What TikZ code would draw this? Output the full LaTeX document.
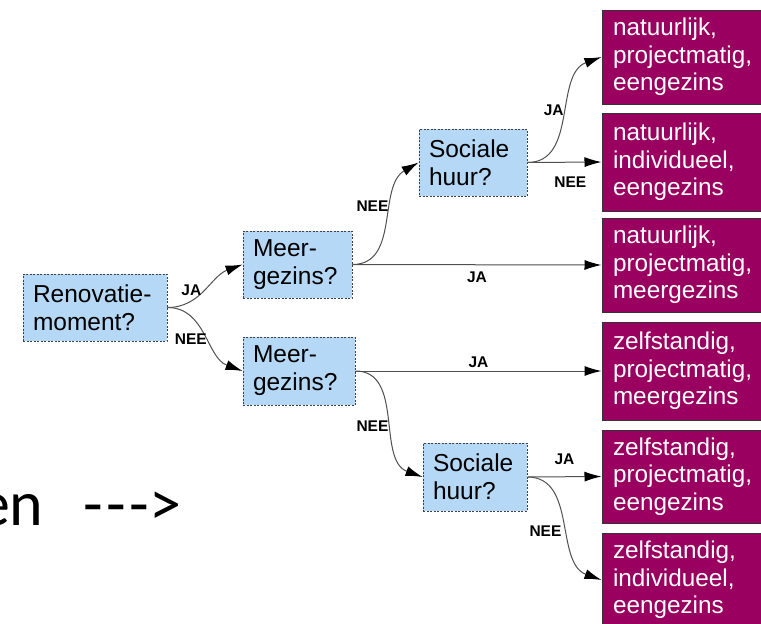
\documentclass[tikz,border=0pt]{standalone}
\usepackage{fontspec}
\setmainfont{Liberation Sans}
\newfontfamily\slidefont{Carlito}
\usetikzlibrary{arrows.meta}
\definecolor{qblue}{HTML}{B4D8F5}
\definecolor{opurple}{HTML}{99005F}
\definecolor{edgegray}{HTML}{505050}
\begin{document}
\begin{tikzpicture}[x=1pt,y=-1pt,
  question/.style={draw=black!75, dashed, dash pattern=on 2pt off 1.5pt, line width=0.8pt,
    fill=qblue, inner xsep=10pt, inner ysep=0pt, align=left,
    font=\fontsize{24.5}{28}\selectfont, text=black},
  outcome/.style={draw=black!80, line width=1pt, fill=opurple, text=white,
    inner xsep=11pt, inner ysep=0pt, align=left, minimum width=163pt,
    text width=141pt, font=\fontsize{24.3}{27.5}\selectfont},
  branch/.style={draw=edgegray, line width=1pt, -{Latex[length=17pt,width=10pt,black]}},
  tag/.style={font=\fontsize{15.5}{16}\bfseries\selectfont, text=black, inner sep=1pt}]
\useasboundingbox (0,0) rectangle (761,624);

% partial slide text on the left
\node[anchor=base east, inner sep=0pt, font=\slidefont\fontsize{64}{70}\selectfont] (slide) at (182,525)
  {en\hspace{40pt}-\kern3.3pt-\kern3.3pt-\kern1pt>};

% question boxes
\node[question, text width=124pt, minimum width=144pt, minimum height=67pt] (ren) at (95,307.5) {Renovatie-\\moment?};
\node[question, text width=89pt, minimum width=109pt, minimum height=67pt] (m1) at (297.5,264.5) {Meer-\\gezins?};
\node[question, text width=92pt, minimum width=112pt, minimum height=68pt] (m2) at (299,371) {Meer-\\gezins?};
\node[question, text width=88pt, minimum width=108pt, minimum height=67pt] (s1) at (473,162.5) {Sociale\\huur?};
\node[question, text width=84pt, minimum width=104pt, minimum height=68pt] (s2) at (475,477) {Sociale\\huur?};

% outcome boxes
\node[outcome, minimum height=94pt] (o1) at (683.5,57) {natuurlijk,\\projectmatig,\\eengezins};
\node[outcome, minimum height=98pt] (o2) at (683.5,162) {natuurlijk,\\individueel,\\eengezins};
\node[outcome, minimum height=94pt] (o3) at (683.5,265) {natuurlijk,\\projectmatig,\\meergezins};
\node[outcome, minimum height=98pt] (o4) at (683.5,371) {zelfstandig,\\projectmatig,\\meergezins};
\node[outcome, minimum height=93pt] (o5) at (683.5,476.5) {zelfstandig,\\projectmatig,\\eengezins};
\node[outcome, minimum height=94pt] (o6) at (683.5,580) {zelfstandig,\\individueel,\\eengezins};

% branches
\draw[branch] (ren.east) to[out=0,in=200] node[tag, pos=0.5, left=3pt] (l1) {JA} (m1.west);
\draw[branch] (ren.east) to[out=0,in=160] node[tag, pos=0.56, left=1pt] (l2) {NEE} (m2.west);
\draw[branch] (m1.east) to[out=0,in=210] node[tag, pos=0.62, left=2pt] (l3) {NEE} (s1.west);
\draw[branch] (m1.east) -- node[tag, pos=0.5, below=6pt] (l4) {JA} (o3.west);
\draw[branch] (s1.east) to[out=0,in=200] node[tag, pos=0.54, left=2pt] (l5) {JA} (o1.west);
\draw[branch] (s1.east) -- node[tag, pos=0.58, below=13pt] (l6) {NEE} (o2.west);
\draw[branch] (m2.east) -- node[tag, pos=0.5, above=2pt] (l7) {JA} (o4.west);
\draw[branch] (m2.east) to[out=0,in=160] node[tag, pos=0.56, left=2pt] (l8) {NEE} (s2.west);
\draw[branch] (s2.east) -- node[tag, pos=0.5, above=11pt] (l9) {JA} (o5.west);
\draw[branch] (s2.east) to[out=0,in=160] node[tag, pos=0.56, left=5pt] (l10) {NEE} (o6.west);
\end{tikzpicture}
\end{document}
